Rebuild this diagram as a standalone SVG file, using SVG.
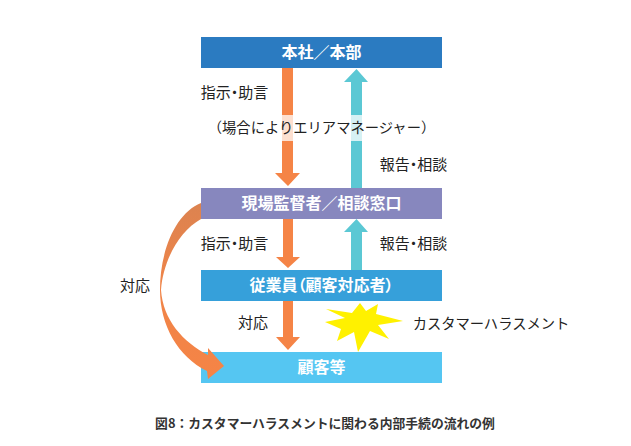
<svg xmlns="http://www.w3.org/2000/svg" width="631" height="446" viewBox="0 0 631 446">
<style>
text{font-family:"Noto Sans CJK JP","Noto Sans",sans-serif;text-anchor:middle}
.w{fill:#fff;font-size:16px;font-weight:700}
.l{fill:#222;font-size:15px}
.p{font-feature-settings:"palt"}
.m{fill:#222;font-size:14.300px}
.o{fill:#f58446}
.t{fill:#5bc8d4}
</style>
<defs><linearGradient id="g" x1="0" y1="0" x2="0" y2="1"><stop offset="0" stop-color="#dc8350"/><stop offset="0.5" stop-color="#f08448"/><stop offset="1" stop-color="#f58446"/></linearGradient></defs>
<rect width="631" height="446" fill="#fff"/>
<g id="node-honsha"><rect x="201" y="37" width="241" height="31" fill="#2b7bc1"/><text class="w" x="321.500" y="58">本社／本部</text></g>
<g id="node-genba"><rect x="201" y="188" width="241" height="31" fill="#8787be"/><text class="w" x="321.500" y="209">現場監督者／相談窓口</text></g>
<g id="node-jugyoin"><rect x="201" y="270" width="241" height="31" fill="#36a0da"/><text class="w p" x="321.500" y="291">従業員（顧客対応者）</text></g>
<g id="node-kokyaku"><rect x="201" y="352" width="241" height="31" fill="#55c6f2"/><text class="w" x="321.500" y="373">顧客等</text></g>
<g id="connectors">
<polygon class="o" points="282,68 293,68 293,173 300,173 288,186 275,173 282,173"/>
<polygon class="t" points="351,188 362,188 362,82 368,82 356.500,69 344,82 351,82"/>
<rect x="276" y="115" width="97" height="26" fill="#fff" opacity="0.75"/>
<polygon class="o" points="283,219 293,219 293,257 300,257 288,268 276,257 283,257"/>
<polygon class="t" points="351,270 362,270 362,232 368,232 356.500,219 344,232 351,232"/>
<polygon class="o" points="283,301 293,301 293,337 300,337 288,350 276,337 283,337"/>
<path fill="url(#g)" d="M201,203 C176,213 160,250 160,290 C160,325 178,357 207,371 L208,379 L224,366 L208,348 L208,355 C183,342 163,320 161,290 C163,262 178,232 201,219 Z"/>
</g>
<g id="burst"><polygon fill="#fff100" points="325,322 345,318 326,309 352,313 360,303 366,311 378,304 376,314 403,321 378,325 389,339 370,331 358,352 354,332 337,341 341,329"/></g>
<g id="labels">
<text class="l p" x="234.500" y="98">指示・助言</text>
<text class="m" x="321.500" y="133">（場合によりエリアマネージャー）</text>
<text class="l p" x="413.500" y="170">報告・相談</text>
<text class="l p" x="234.500" y="249">指示・助言</text>
<text class="l p" x="413.500" y="249">報告・相談</text>
<text class="l" x="135" y="291">対応</text>
<text class="l" x="253" y="328">対応</text>
<text class="m" x="491" y="329">カスタマーハラスメント</text>
<text x="325" y="428" style="font-size:12.800px;font-weight:700;fill:#333">図8：カスタマーハラスメントに関わる内部手続の流れの例</text>
</g>
</svg>
